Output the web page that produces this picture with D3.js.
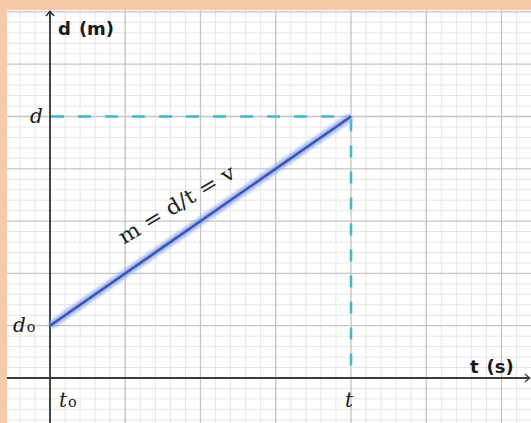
<!DOCTYPE html>
<html>
<head>
<meta charset="utf-8">
<script src="https://cdn.jsdelivr.net/npm/d3@7"></script>
<style>
  html, body { margin: 0; padding: 0; background: #f7c9a9; }
  svg { display: block; }
</style>
</head>
<body>
<svg id="chart" width="531" height="423"></svg>
<script>
// Position–time graph: uniform motion from (t0, d0) to (t, d)
const tValues = [0, 4];          // time, in grid units
const dValues = [1, 5];          // distance, in grid units
const tTickValues = [0, 4];
const tTickLabels = [["t", "o"], ["t", ""]];
const dTickValues = [1, 5];
const dTickLabels = [["d", "o"], ["d", ""]];
const xAxisTitle = ["t", "(s)"];
const yAxisTitle = ["d", "(m)"];
const slopeLabel = "m = d/t = v";

const W = 531, H = 423;
const svg = d3.select("#chart");

// plotting paper
const paper = { left: 7, top: 10, right: W, bottom: H };

const x = d3.scaleLinear().domain([0, 4]).range([50, 351]);
const y = d3.scaleLinear().domain([0, 5]).range([378, 116.5]);

svg.append("rect")
  .attr("x", paper.left).attr("y", paper.top)
  .attr("width", paper.right - paper.left).attr("height", paper.bottom - paper.top)
  .attr("fill", "#ffffff");

svg.append("clipPath").attr("id", "paper")
  .append("rect")
  .attr("x", paper.left).attr("y", paper.top)
  .attr("width", paper.right - paper.left).attr("height", paper.bottom - paper.top);

const g = svg.append("g").attr("clip-path", "url(#paper)");

const xMin = x.invert(paper.left), xMax = x.invert(paper.right);
const yMin = y.invert(paper.bottom), yMax = y.invert(paper.top);

// minor grid (fifths of a unit) and major grid (whole units)
const fifths = (lo, hi) => d3.range(Math.ceil(lo * 5), Math.floor(hi * 5) + 1)
  .map(k => k / 5).filter(v => Math.abs(v - Math.round(v)) > 1e-6);
const minorX = fifths(xMin, xMax), minorY = fifths(yMin, yMax);
const majorX = d3.range(Math.ceil(xMin), Math.floor(xMax) + 1);
const majorY = d3.range(Math.ceil(yMin), Math.floor(yMax) + 1);

g.selectAll(".minx").data(minorX).join("line")
  .attr("x1", d => x(d)).attr("x2", d => x(d))
  .attr("y1", paper.top).attr("y2", paper.bottom)
  .attr("stroke", "#e6e6e6").attr("stroke-width", 1);
g.selectAll(".miny").data(minorY).join("line")
  .attr("y1", d => y(d)).attr("y2", d => y(d))
  .attr("x1", paper.left).attr("x2", paper.right)
  .attr("stroke", "#e6e6e6").attr("stroke-width", 1);
g.selectAll(".majx").data(majorX).join("line")
  .attr("x1", d => x(d)).attr("x2", d => x(d))
  .attr("y1", paper.top).attr("y2", paper.bottom)
  .attr("stroke", "#c4c4c4").attr("stroke-width", 1.3);
g.selectAll(".majy").data(majorY).join("line")
  .attr("y1", d => y(d)).attr("y2", d => y(d))
  .attr("x1", paper.left).attr("x2", paper.right)
  .attr("stroke", "#c4c4c4").attr("stroke-width", 1.3);

// axes
g.append("line")
  .attr("x1", x(0)).attr("x2", x(0))
  .attr("y1", paper.bottom).attr("y2", paper.top + 1)
  .attr("stroke", "#1e1e1e").attr("stroke-width", 1.6);
g.append("line")
  .attr("x1", paper.left).attr("x2", paper.right - 1)
  .attr("y1", y(0)).attr("y2", y(0))
  .attr("stroke", "#3a3a3a").attr("stroke-width", 1.8);

// arrowheads
g.append("path")
  .attr("d", `M${x(0) - 4},${paper.top + 6} L${x(0)},${paper.top + 1.5} L${x(0) + 4},${paper.top + 6}`)
  .attr("fill", "none").attr("stroke", "#1e1e1e").attr("stroke-width", 1.3);
g.append("path")
  .attr("d", `M${paper.right - 6},${y(0) - 4} L${paper.right - 1.5},${y(0)} L${paper.right - 6},${y(0) + 4}`)
  .attr("fill", "none").attr("stroke", "#3a3a3a").attr("stroke-width", 1.3);

// dashed guides to the end point
const tEnd = tValues[1], dEnd = dValues[1];
g.append("line")
  .attr("x1", x(0)).attr("x2", x(tEnd))
  .attr("y1", y(dEnd)).attr("y2", y(dEnd))
  .attr("stroke", "#46b6cb").attr("stroke-width", 2.6)
  .attr("stroke-dasharray", "13,14").attr("stroke-dashoffset", -1);
g.append("line")
  .attr("x1", x(tEnd)).attr("x2", x(tEnd))
  .attr("y1", y(dEnd)).attr("y2", y(0))
  .attr("stroke", "#46b6cb").attr("stroke-width", 2.6)
  .attr("stroke-dasharray", "12,14").attr("stroke-dashoffset", -3);

// the motion line with a soft halo
const defs = svg.append("defs");
defs.append("filter").attr("id", "halo").attr("x", "-10%").attr("y", "-10%").attr("width", "120%").attr("height", "120%")
  .append("feGaussianBlur").attr("stdDeviation", 1.5);

const pts = tValues.map((t, i) => [t, dValues[i]]);
const line = d3.line().x(d => x(d[0])).y(d => y(d[1]));
g.append("path").datum(pts)
  .attr("d", line)
  .attr("fill", "none").attr("stroke", "#8ea6ea").attr("stroke-width", 8)
  .attr("stroke-opacity", 0.8).attr("filter", "url(#halo)");
g.append("path").datum(pts)
  .attr("d", line)
  .attr("fill", "none").attr("stroke", "#3c56b4").attr("stroke-width", 2.6);

// slope annotation
const la = [0.98, 2.55];
g.append("text")
  .attr("transform", `translate(${x(la[0])},${y(la[1])}) rotate(-31)`)
  .attr("font-family", "'DejaVu Serif', serif")
  .attr("font-size", 21)
  .attr("fill", "#222")
  .attr("textLength", 132)
  .attr("lengthAdjust", "spacingAndGlyphs")
  .text(slopeLabel);

// math-style tick labels
function mathLabel(sel, parts, size) {
  sel.attr("font-family", "'DejaVu Serif', serif").attr("fill", "#1a1a1a");
  sel.append("tspan").attr("font-style", "italic").attr("font-size", size).text(parts[0]);
  if (parts[1]) sel.append("tspan").attr("font-size", size * 0.72).attr("dx", 1).text(parts[1]);
}
dTickValues.forEach((v, i) => {
  const t = g.append("text")
    .attr("x", x(0) - 37 + (dTickLabels[i][1] ? 0 : 17))
    .attr("y", y(v) + 6);
  mathLabel(t, dTickLabels[i], 20);
});
tTickValues.forEach((v, i) => {
  const t = g.append("text")
    .attr("x", x(v) + (tTickLabels[i][1] ? 9 : -6))
    .attr("y", y(0) + 29);
  mathLabel(t, tTickLabels[i], 20);
});

// axis titles
function boldTitle(sel, parts) {
  sel.attr("font-family", "'DejaVu Sans', sans-serif")
    .attr("font-weight", "bold").attr("font-size", 18).attr("fill", "#1a1a1a");
  sel.append("tspan").text(parts[0]);
  sel.append("tspan").attr("dx", 8).text(parts[1]);
}
boldTitle(g.append("text").attr("x", x(0) + 8).attr("y", paper.top + 25), yAxisTitle);
boldTitle(g.append("text").attr("x", paper.right - 61).attr("y", y(0) - 5), xAxisTitle);
</script>
</body>
</html>
